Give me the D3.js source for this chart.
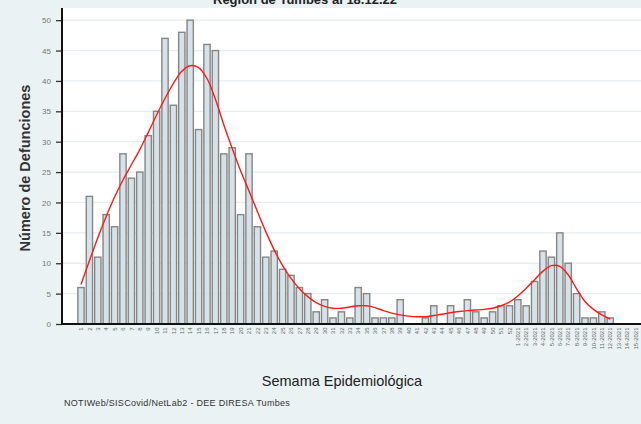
<!DOCTYPE html>
<html>
<head>
<meta charset="utf-8">
<script src="https://cdn.jsdelivr.net/npm/d3@7"></script>
<style>
  body { margin: 0; background: #eaf2f3; }
  svg { display: block; font-family: "Liberation Sans", Arial, sans-serif; }
</style>
</head>
<body>
<div id="chart"></div>
<script>
// Weekly deaths (bars), week labels and smoothed trend
var weeks = [];
for (var w = 1; w <= 52; w++) weeks.push(String(w));
["1", "2", "3", "4", "5", "6", "7", "8", "9", "10", "11", "12", "13", "14", "15"]
    .forEach(function (s) { weeks.push(s + "-2021"); });

var deaths = [6, 21, 11, 18, 16, 28, 24, 25, 31, 35,
              47, 36, 48, 50, 32, 46, 45, 28, 29, 18,
              28, 16, 11, 12, 9, 8, 6, 5, 2, 4,
              1, 2, 1, 6, 5, 1, 1, 1, 4, 0,
              0, 1, 3, 0, 3, 1, 4, 2, 1, 2,
              3, 3, 4, 3, 7, 12, 11, 15, 10, 5,
              1, 1, 2, 1, 0, 0, 0];

var trend = [6.5, 10.4, 14.2, 17.7, 20.9, 23.7, 26.2, 28.7, 31.5, 34.4,
             37.1, 39.6, 41.6, 42.5, 42.2, 40.4, 37.0, 32.8, 28.9, 25.2,
             21.9, 18.5, 15.2, 12.2, 9.6, 7.5, 5.8, 4.5, 3.5, 2.9,
             2.6, 2.6, 2.8, 3.0, 3.0, 2.7, 2.2, 1.8, 1.5, 1.3,
             1.2, 1.2, 1.4, 1.6, 1.85, 2.05, 2.2, 2.3, 2.4, 2.6,
             3.0, 3.6, 4.6, 5.9, 7.3, 8.7, 9.6, 9.5, 8.1, 5.8,
             3.7, 2.4, 1.5, 0.8];

var yTicks = [0, 5, 10, 15, 20, 25, 30, 35, 40, 45, 50];

var width = 641, height = 424;
var plotLeft = 62, plotTop = 8, plotBottom = 324;
var step = 8.4, barStart = 76.8;

var svg = d3.select("#chart").append("svg")
    .attr("width", width)
    .attr("height", height);

// outer background
svg.append("rect")
    .attr("width", width).attr("height", height)
    .style("fill", "#eaf2f3");

// plot region
svg.append("rect")
    .attr("x", plotLeft).attr("y", plotTop)
    .attr("width", width - plotLeft).attr("height", plotBottom - plotTop)
    .style("fill", "#fff");

var x = d3.scaleBand()
    .domain(weeks)
    .range([barStart, barStart + step * weeks.length])
    .paddingInner(0.25)
    .paddingOuter(0.125);

var y = d3.scaleLinear()
    .domain([0, 52])
    .range([plotBottom, plotTop]);

// grid lines
svg.selectAll(".grid")
    .data(yTicks.slice(1))
    .enter()
    .append("line")
    .attr("class", "grid")
    .attr("x1", plotLeft).attr("x2", width)
    .attr("y1", d => y(d)).attr("y2", d => y(d))
    .style("stroke", "#e4edf0")
    .style("stroke-width", 1.3);

// bars
svg.selectAll(".bar")
    .data(deaths)
    .enter()
    .append("rect")
    .attr("class", "bar")
    .attr("x", (d, i) => x(weeks[i]))
    .attr("y", d => y(d))
    .attr("width", x.bandwidth())
    .attr("height", d => plotBottom - y(d))
    .style("fill", d => d > 0 ? "#d6e2e8" : "none")
    .style("stroke", d => d > 0 ? "#868686" : "none")
    .style("stroke-width", 1.4);

// smoothed trend
var line = d3.line()
    .x((d, i) => x(weeks[i]) + x.bandwidth() / 2)
    .y(d => y(d))
    .curve(d3.curveCatmullRom.alpha(0.5));

svg.append("path")
    .datum(trend)
    .attr("d", line)
    .style("fill", "none")
    .style("stroke", "#ff1a1a")
    .style("stroke-width", 1.4);

// y axis
var yAxis = d3.axisLeft(y).tickValues(yTicks).tickSize(6).tickPadding(5);
var gy = svg.append("g")
    .attr("transform", "translate(" + plotLeft + ",0)")
    .call(yAxis);
gy.select(".domain").remove();
gy.selectAll(".tick line").style("stroke", "#333").style("stroke-width", 1.3);
gy.selectAll(".tick text")
    .style("font-size", "8px")
    .style("fill", "#777")
    .style("font-family", "Liberation Sans, Arial, sans-serif");

svg.append("line")
    .attr("x1", plotLeft).attr("x2", plotLeft)
    .attr("y1", plotTop).attr("y2", plotBottom + 1)
    .style("stroke", "#111").style("stroke-width", 2);

// x axis line
svg.append("line")
    .attr("x1", plotLeft - 1).attr("x2", width)
    .attr("y1", plotBottom).attr("y2", plotBottom)
    .style("stroke", "#111").style("stroke-width", 2);

// x tick labels, rotated
svg.selectAll(".xlab")
    .data(weeks)
    .enter()
    .append("text")
    .attr("class", "xlab")
    .attr("transform", d => "translate(" + (x(d) + x.bandwidth() / 2) + "," + (plotBottom + 3.5) + ") rotate(-90)")
    .attr("dy", "0.35em")
    .attr("text-anchor", "end")
    .style("font-size", "6px")
    .style("fill", "#666")
    .text(d => d);

// title (cut at top, as in the source)
svg.append("text")
    .attr("x", 305).attr("y", 3.5)
    .attr("text-anchor", "middle")
    .style("font-size", "13px")
    .style("font-weight", "bold")
    .style("fill", "#222")
    .text("Región de Tumbes al 18.12.22");

// axis titles
svg.append("text")
    .attr("transform", "translate(30,168) rotate(-90)")
    .attr("text-anchor", "middle")
    .style("font-size", "14.5px")
    .style("font-weight", "bold")
    .style("fill", "#333")
    .text("Número de Defunciones");

svg.append("text")
    .attr("x", 342).attr("y", 386)
    .attr("text-anchor", "middle")
    .style("font-size", "14.5px")
    .style("fill", "#222")
    .text("Semama Epidemiológica");

// source note
svg.append("text")
    .attr("x", 64).attr("y", 406)
    .style("font-size", "9px")
    .style("letter-spacing", "0.3px")
    .style("fill", "#333")
    .text("NOTIWeb/SISCovid/NetLab2 - DEE DIRESA Tumbes");
</script>
</body>
</html>
